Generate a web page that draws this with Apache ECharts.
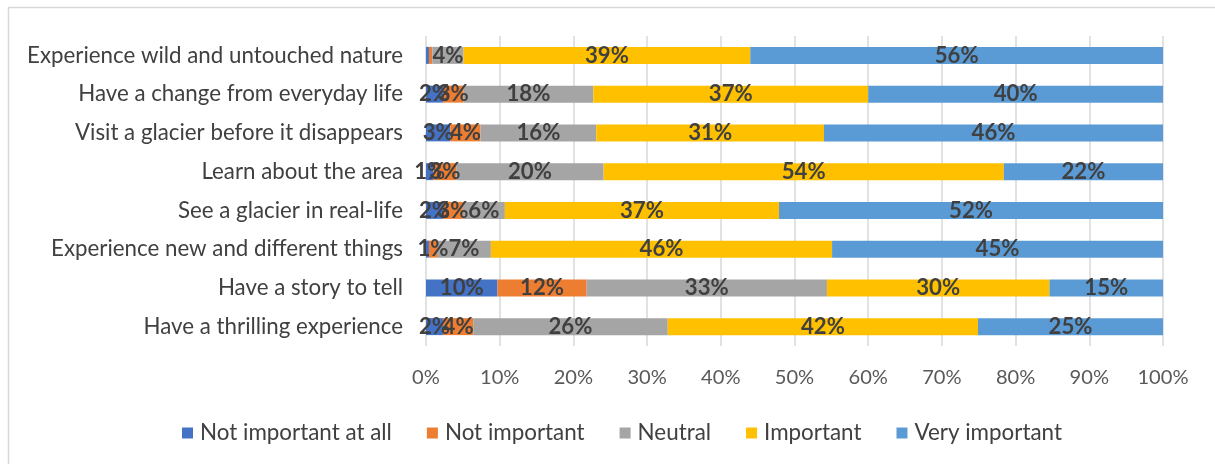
<!DOCTYPE html>
<html>
<head>
<meta charset="utf-8">
<script src="https://cdn.jsdelivr.net/npm/echarts@6/dist/echarts.min.js"></script>
<style>
html,body{margin:0;padding:0;background:#fff;}
#chart{width:1215px;height:464px;}
</style>
</head>
<body>
<div id="chart"></div>
<script>
// Categories, top to bottom
const categories = [
  "Experience wild and untouched nature",
  "Have a change from everyday life",
  "Visit a glacier before it disappears",
  "Learn about the area",
  "See a glacier in real-life",
  "Experience new and different things",
  "Have a story to tell",
  "Have a thrilling experience"
];
const seriesNames = ["Not important at all", "Not important", "Neutral", "Important", "Very important"];
const notImportantAtAll = [0.4, 2.3, 3.3, 1.0, 2.3, 0.4, 9.7, 2.3];
const notImportant      = [0.45, 2.8, 4.1, 3.1, 2.7, 1.1, 12.1, 4.1];
const neutral           = [4.25, 17.6, 15.7, 20.0, 5.7, 7.3, 32.6, 26.4];
const important         = [38.9, 37.3, 30.9, 54.3, 37.2, 46.3, 30.2, 42.1];
const veryImportant     = [56.0, 40.0, 46.0, 21.6, 52.1, 44.9, 15.4, 25.1];
const tickLabels = ["0%","10%","20%","30%","40%","50%","60%","70%","80%","90%","100%"];

const colors = ["#4472C4", "#ED7D31", "#A5A5A5", "#FFC000", "#5B9BD5"];
const values = [notImportantAtAll, notImportant, neutral, important, veryImportant];
const FONT = "Lato";

// choose font sizes so text widths match the reference
const mctx = document.createElement('canvas').getContext('2d');
function fitSize(text, weight, target) {
  mctx.font = weight + ' 100px ' + FONT;
  const w = mctx.measureText(text).width;
  return Math.round(100 * target / w * 10) / 10;
}
const catSize = fitSize("Experience wild and untouched nature", 'normal', 376);
const legSize = fitSize("Not important at all", 'normal', 192);
const tickSize = fitSize("100%", 'normal', 51);
const lblSize = fitSize("39%", 'bold', 44);

const chart = echarts.init(document.getElementById('chart'), null, {renderer: 'canvas'});
chart.setOption({
  animation: false,
  backgroundColor: '#ffffff',
  graphic: [{
    type: 'rect',
    shape: {x: 8.5, y: 7.5, width: 1250, height: 500},
    style: {fill: 'none', stroke: '#d9d9d9', lineWidth: 1.5},
    silent: true, z: -10
  }],
  grid: {left: 426, right: 52, top: 36, bottom: 118, containLabel: false},
  legend: {
    data: seriesNames,
    top: 417,
    left: 177,
    itemWidth: 11,
    itemHeight: 11,
    itemGap: 35,
    icon: 'rect',
    textStyle: {color: '#404040', fontSize: legSize, fontFamily: FONT, padding: [0, 0, 0, 2]}
  },
  xAxis: {
    type: 'value',
    min: 0, max: 100, interval: 10,
    axisLine: {show: false},
    axisTick: {show: false},
    splitLine: {show: true, lineStyle: {color: '#d9d9d9', width: 1.5}},
    axisLabel: {
      color: '#595959', fontSize: tickSize, fontFamily: FONT, margin: 22,
      formatter: function (v) { return tickLabels[Math.round(v / 10)]; }
    }
  },
  yAxis: {
    type: 'category',
    data: categories,
    inverse: true,
    axisLine: {show: false},
    axisTick: {show: false},
    axisLabel: {color: '#404040', fontSize: catSize, fontFamily: FONT, margin: 23}
  },
  series: seriesNames.map(function (name, i) {
    return {
      name: name,
      type: 'bar',
      stack: 'total',
      barWidth: 17,
      data: values[i],
      itemStyle: {color: colors[i]},
      label: {
        show: true,
        position: 'inside',
        offset: [0, 1],
        color: '#404040',
        fontSize: lblSize,
        fontWeight: 'bold',
        fontFamily: FONT,
        formatter: function (p) {
          const r = Math.round(p.value);
          return r === 0 ? '' : r + '%';
        }
      },
      labelLayout: {hideOverlap: false}
    };
  })
});
</script>
</body>
</html>
